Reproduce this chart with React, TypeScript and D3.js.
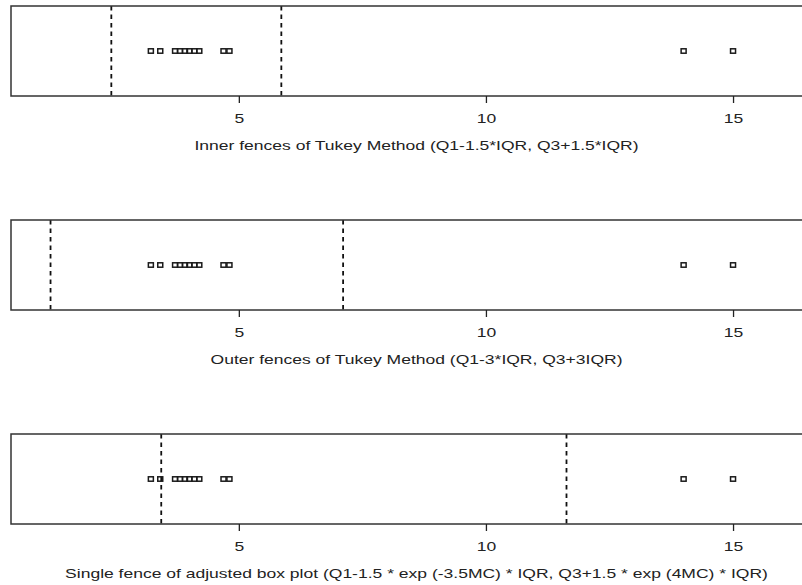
import * as d3 from "d3";
import { useEffect, useRef } from "react";

// observed values (same points in every panel)
const pointValues = [3.22, 3.41, 3.71, 3.81, 3.91, 4.0, 4.1, 4.2, 4.69, 4.81, 14, 15];
const lowerFences = [2.42, 1.19, 3.43];
const upperFences = [5.86, 7.11, 11.63];
const tickValues = [5, 10, 15];
const panelTitles = [
  "Inner fences of Tukey Method (Q1-1.5*IQR, Q3+1.5*IQR)",
  "Outer fences of Tukey Method (Q1-3*IQR, Q3+3IQR)",
  "Single fence of adjusted box plot (Q1-1.5 * exp (-3.5MC) * IQR, Q3+1.5 * exp (4MC) * IQR)",
];

const App = () => {
  const ref = useRef<SVGSVGElement | null>(null);

  useEffect(() => {
    const width = 802;
    const height = 585;
    const left = 11;
    const right = 822;
    const panelH = 90;
    const panelStep = 214;
    const firstTop = 6;
    const font = "'Liberation Sans', Arial, sans-serif";
    // the original picture is stretched sideways, so the text is too
    const stretch = 1.46;

    const svg = d3.select(ref.current);
    svg.selectAll("*").remove();
    svg.attr("width", width).attr("height", height);

    const x = d3.scaleLinear().domain([0.39, 16.8]).range([left, right]);

    panelTitles.forEach((title, i) => {
      const top = firstTop + i * panelStep;
      const bottom = top + panelH;
      const midY = top + panelH / 2;
      const g = svg.append("g");

      // fences
      [lowerFences[i], upperFences[i]].forEach((f) => {
        g.append("line")
          .attr("x1", x(f))
          .attr("x2", x(f))
          .attr("y1", top)
          .attr("y2", bottom)
          .attr("stroke", "#111")
          .attr("stroke-width", 1.8)
          .attr("stroke-dasharray", "4.5,4");
      });

      // points
      g.selectAll("rect.pt")
        .data(pointValues)
        .enter()
        .append("rect")
        .attr("class", "pt")
        .attr("x", (d) => x(d) - 2.5)
        .attr("y", midY - 2.2)
        .attr("width", 5)
        .attr("height", 4.4)
        .attr("fill", "none")
        .attr("stroke", "#1a1a1a")
        .attr("stroke-width", 1.5);

      // box
      g.append("rect")
        .attr("x", left)
        .attr("y", top)
        .attr("width", right - left)
        .attr("height", panelH)
        .attr("fill", "none")
        .attr("stroke", "#333")
        .attr("stroke-width", 1.5);

      // axis
      const axis = g
        .append("g")
        .attr("transform", `translate(0,${bottom})`)
        .call(d3.axisBottom(x).tickValues(tickValues).tickSize(7).tickPadding(11));
      axis.select(".domain").remove();
      axis.selectAll("line").attr("stroke", "#222").attr("stroke-width", 1.3);
      axis
        .selectAll("text")
        .attr("fill", "#222")
        .attr("transform", `scale(${stretch},1)`)
        .style("font-family", font)
        .style("font-size", "12px");

      g.append("text")
        .attr("transform", `translate(${(left + right) / 2},${bottom + 50}) scale(${stretch},1)`)
        .attr("dy", "0.35em")
        .attr("text-anchor", "middle")
        .attr("fill", "#222")
        .style("font-family", font)
        .style("font-size", "12px")
        .text(title);
    });
  }, []);

  return (
    <div style={{ position: "absolute", left: 0, top: 0 }}>
      <svg ref={ref} style={{ display: "block", background: "#fff" }}></svg>
    </div>
  );
};

export default App;
